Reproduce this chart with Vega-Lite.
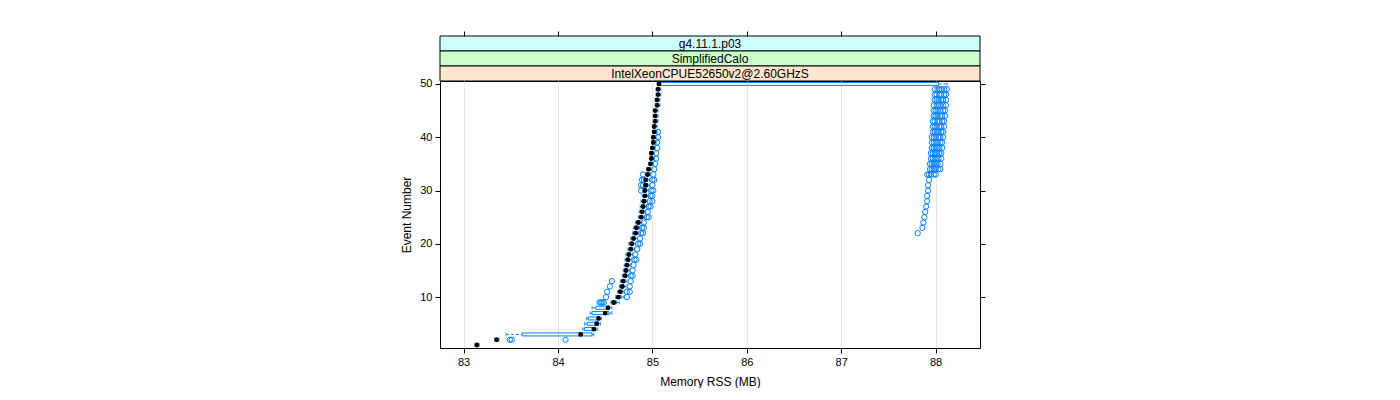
{
"$schema":"https://vega.github.io/schema/vega-lite/v6.json",
"padding":{"left":400,"top":30,"right":0,"bottom":0},
"background":"white",
"spacing":0,
"bounds":"flush",
"config":{"font":"Liberation Sans","view":{"stroke":null},"scale":{"continuousPadding":0},
"axis":{"domain":false,"tickColor":"black","tickSize":5,"labelFontSize":11,"labelColor":"black","labelFont":"Liberation Sans","titleFont":"Liberation Sans","titleFontSize":12,"titleFontWeight":"normal","titleColor":"black","gridColor":"#e6e6e6","labelPadding":3,"titlePadding":6}},
"datasets":{
"strips":[{"label":"g4.11.1.p03"},{"label":"SimplifiedCalo"},{"label":"IntelXeonCPUE52650v2@2.60GHzS"}],
"summary":[
{"e":1,"lo":83.12,"q1":83.135,"med":83.14,"q3":83.15,"hi":83.165},
{"e":2,"lo":83.33,"q1":83.345,"med":83.35,"q3":83.36,"hi":83.375},
{"e":3,"lo":83.45,"q1":83.62,"med":84.24,"q3":84.36,"hi":84.38},
{"e":4,"lo":84.26,"q1":84.28,"med":84.38,"q3":84.40,"hi":84.42},
{"e":5,"lo":84.28,"q1":84.31,"med":84.41,"q3":84.43,"hi":84.45},
{"e":6,"lo":84.30,"q1":84.32,"med":84.43,"q3":84.44,"hi":84.46},
{"e":7,"lo":84.34,"q1":84.36,"med":84.50,"q3":84.54,"hi":84.57},
{"e":8,"lo":84.36,"q1":84.40,"med":84.53,"q3":84.54,"hi":84.57},
{"e":9,"lo":84.56,"q1":84.57,"med":84.59,"q3":84.62,"hi":84.65},
{"e":10,"lo":84.61,"q1":84.62,"med":84.64,"q3":84.67,"hi":84.70},
{"e":11,"lo":84.63,"q1":84.65,"med":84.66,"q3":84.68,"hi":84.70},
{"e":12,"lo":84.65,"q1":84.67,"med":84.68,"q3":84.70,"hi":84.72},
{"e":13,"lo":84.66,"q1":84.68,"med":84.69,"q3":84.71,"hi":84.73},
{"e":14,"lo":84.68,"q1":84.70,"med":84.71,"q3":84.73,"hi":84.75},
{"e":15,"lo":84.69,"q1":84.71,"med":84.72,"q3":84.74,"hi":84.76},
{"e":16,"lo":84.70,"q1":84.72,"med":84.73,"q3":84.75,"hi":84.77},
{"e":17,"lo":84.71,"q1":84.73,"med":84.74,"q3":84.76,"hi":84.78},
{"e":18,"lo":84.72,"q1":84.74,"med":84.75,"q3":84.77,"hi":84.79},
{"e":19,"lo":84.74,"q1":84.76,"med":84.77,"q3":84.79,"hi":84.81},
{"e":20,"lo":84.75,"q1":84.77,"med":84.78,"q3":84.80,"hi":84.82},
{"e":21,"lo":84.77,"q1":84.79,"med":84.80,"q3":84.82,"hi":84.84},
{"e":22,"lo":84.79,"q1":84.81,"med":84.82,"q3":84.84,"hi":84.86},
{"e":23,"lo":84.80,"q1":84.82,"med":84.83,"q3":84.85,"hi":84.87},
{"e":24,"lo":84.82,"q1":84.84,"med":84.85,"q3":84.87,"hi":84.89},
{"e":25,"lo":84.85,"q1":84.87,"med":84.88,"q3":84.90,"hi":84.92},
{"e":26,"lo":84.86,"q1":84.88,"med":84.89,"q3":84.91,"hi":84.93},
{"e":27,"lo":84.87,"q1":84.89,"med":84.90,"q3":84.92,"hi":84.94},
{"e":28,"lo":84.88,"q1":84.90,"med":84.91,"q3":84.93,"hi":84.95},
{"e":29,"lo":84.89,"q1":84.91,"med":84.92,"q3":84.94,"hi":84.96},
{"e":30,"lo":84.90,"q1":84.91,"med":84.92,"q3":84.94,"hi":84.96},
{"e":31,"lo":84.91,"q1":84.92,"med":84.93,"q3":84.95,"hi":84.97},
{"e":32,"lo":84.91,"q1":84.92,"med":84.93,"q3":84.95,"hi":84.97},
{"e":33,"lo":84.93,"q1":84.94,"med":84.95,"q3":84.96,"hi":84.98},
{"e":34,"lo":84.94,"q1":84.95,"med":84.96,"q3":84.97,"hi":84.99},
{"e":35,"lo":84.96,"q1":84.97,"med":84.98,"q3":84.99,"hi":85.01},
{"e":36,"lo":84.97,"q1":84.98,"med":84.99,"q3":85.00,"hi":85.02},
{"e":37,"lo":84.97,"q1":84.98,"med":84.99,"q3":85.00,"hi":85.02},
{"e":38,"lo":84.98,"q1":84.99,"med":85.00,"q3":85.01,"hi":85.03},
{"e":39,"lo":84.99,"q1":85.00,"med":85.01,"q3":85.02,"hi":85.04},
{"e":40,"lo":84.99,"q1":85.00,"med":85.01,"q3":85.02,"hi":85.04},
{"e":41,"lo":85.00,"q1":85.01,"med":85.02,"q3":85.03,"hi":85.05},
{"e":42,"lo":85.00,"q1":85.01,"med":85.02,"q3":85.03,"hi":85.05},
{"e":43,"lo":85.01,"q1":85.02,"med":85.03,"q3":85.04,"hi":85.06},
{"e":44,"lo":85.01,"q1":85.02,"med":85.03,"q3":85.04,"hi":85.06},
{"e":45,"lo":85.01,"q1":85.02,"med":85.03,"q3":85.04,"hi":85.06},
{"e":46,"lo":85.03,"q1":85.04,"med":85.05,"q3":85.06,"hi":85.08},
{"e":47,"lo":85.03,"q1":85.04,"med":85.05,"q3":85.06,"hi":85.08},
{"e":48,"lo":85.04,"q1":85.05,"med":85.06,"q3":85.07,"hi":85.09},
{"e":49,"lo":85.04,"q1":85.05,"med":85.06,"q3":85.07,"hi":85.09},
{"e":50,"lo":85.05,"q1":85.06,"med":85.07,"q3":88.03,"hi":88.12}
],
"outliers":[
{"e":2,"v":83.49},{"e":2,"v":83.51},{"e":2,"v":84.08},
{"e":9,"v":84.44},{"e":9,"v":84.455},{"e":9,"v":84.47},{"e":9,"v":84.485},
{"e":10,"v":84.51},{"e":10,"v":84.73},
{"e":11,"v":84.52},{"e":11,"v":84.73},{"e":11,"v":84.76},
{"e":12,"v":84.55},{"e":12,"v":84.76},
{"e":13,"v":84.57},{"e":13,"v":84.77},
{"e":14,"v":84.77},{"e":14,"v":84.79},
{"e":15,"v":84.79},{"e":16,"v":84.80},
{"e":17,"v":84.81},{"e":17,"v":84.83},
{"e":18,"v":84.82},{"e":19,"v":84.84},
{"e":20,"v":84.85},{"e":20,"v":84.87},
{"e":21,"v":84.87},
{"e":22,"v":84.88},{"e":22,"v":84.90},
{"e":23,"v":84.89},{"e":23,"v":84.91},
{"e":24,"v":84.91},
{"e":25,"v":84.94},{"e":25,"v":84.96},
{"e":26,"v":84.95},
{"e":27,"v":84.96},{"e":27,"v":84.98},
{"e":28,"v":84.97},{"e":28,"v":85.00},
{"e":29,"v":84.98},{"e":29,"v":85.00},
{"e":30,"v":84.88},{"e":30,"v":84.99},{"e":30,"v":85.01},
{"e":31,"v":84.88},{"e":31,"v":84.90},{"e":31,"v":85.00},
{"e":32,"v":84.89},{"e":32,"v":84.91},{"e":32,"v":85.00},{"e":32,"v":85.02},
{"e":33,"v":84.90},{"e":33,"v":85.01},
{"e":34,"v":85.02},{"e":35,"v":85.03},{"e":36,"v":85.04},{"e":37,"v":85.04},
{"e":38,"v":85.05},{"e":39,"v":85.05},{"e":40,"v":85.06},{"e":41,"v":85.06},
{"e":22,"v":87.81},{"e":23,"v":87.86},{"e":24,"v":87.87},{"e":25,"v":87.88},
{"e":26,"v":87.89},{"e":27,"v":87.90},{"e":28,"v":87.91},{"e":29,"v":87.91},
{"e":30,"v":87.92},{"e":31,"v":87.92},{"e":32,"v":87.93},
{"e":33,"v":87.91},{"e":33,"v":87.93},{"e":33,"v":87.95},{"e":33,"v":87.98},{"e":33,"v":88.00},
{"e":34,"v":87.94},{"e":34,"v":87.96},{"e":34,"v":87.98},{"e":34,"v":88.00},{"e":34,"v":88.03},{"e":34,"v":88.05},
{"e":35,"v":87.94},{"e":35,"v":87.96},{"e":35,"v":87.98},{"e":35,"v":88.00},{"e":35,"v":88.02},{"e":35,"v":88.05},
{"e":36,"v":87.95},{"e":36,"v":87.97},{"e":36,"v":87.99},{"e":36,"v":88.01},{"e":36,"v":88.03},{"e":36,"v":88.06},
{"e":37,"v":87.95},{"e":37,"v":87.97},{"e":37,"v":87.99},{"e":37,"v":88.01},{"e":37,"v":88.04},{"e":37,"v":88.06},
{"e":38,"v":87.96},{"e":38,"v":87.98},{"e":38,"v":88.00},{"e":38,"v":88.02},{"e":38,"v":88.04},{"e":38,"v":88.07},
{"e":39,"v":87.96},{"e":39,"v":87.98},{"e":39,"v":88.00},{"e":39,"v":88.02},{"e":39,"v":88.05},{"e":39,"v":88.07},
{"e":40,"v":87.96},{"e":40,"v":87.98},{"e":40,"v":88.00},{"e":40,"v":88.03},{"e":40,"v":88.05},{"e":40,"v":88.08},
{"e":41,"v":87.97},{"e":41,"v":87.99},{"e":41,"v":88.01},{"e":41,"v":88.03},{"e":41,"v":88.06},{"e":41,"v":88.08},
{"e":42,"v":87.97},{"e":42,"v":87.99},{"e":42,"v":88.01},{"e":42,"v":88.04},{"e":42,"v":88.06},{"e":42,"v":88.09},
{"e":43,"v":87.97},{"e":43,"v":87.99},{"e":43,"v":88.02},{"e":43,"v":88.04},{"e":43,"v":88.07},{"e":43,"v":88.09},
{"e":44,"v":87.98},{"e":44,"v":88.00},{"e":44,"v":88.02},{"e":44,"v":88.05},{"e":44,"v":88.07},{"e":44,"v":88.10},
{"e":45,"v":87.98},{"e":45,"v":88.00},{"e":45,"v":88.02},{"e":45,"v":88.05},{"e":45,"v":88.08},{"e":45,"v":88.10},
{"e":46,"v":87.98},{"e":46,"v":88.01},{"e":46,"v":88.03},{"e":46,"v":88.05},{"e":46,"v":88.08},{"e":46,"v":88.11},
{"e":47,"v":87.99},{"e":47,"v":88.01},{"e":47,"v":88.03},{"e":47,"v":88.06},{"e":47,"v":88.08},{"e":47,"v":88.11},
{"e":48,"v":87.99},{"e":48,"v":88.01},{"e":48,"v":88.04},{"e":48,"v":88.06},{"e":48,"v":88.09},{"e":48,"v":88.11},
{"e":49,"v":87.99},{"e":49,"v":88.02},{"e":49,"v":88.04},{"e":49,"v":88.06},{"e":49,"v":88.09},{"e":49,"v":88.12}
]
},
"vconcat":[
{
"width":540,"height":45,
"data":{"name":"strips"},
"encoding":{"y":{"field":"label","type":"nominal","sort":["g4.11.1.p03","SimplifiedCalo","IntelXeonCPUE52650v2@2.60GHzS"],"scale":{"paddingInner":0,"paddingOuter":0},"axis":null}},
"layer":[
{"mark":{"type":"rect","stroke":"black","strokeWidth":1},
"encoding":{"fill":{"field":"label","type":"nominal","scale":{"domain":["g4.11.1.p03","SimplifiedCalo","IntelXeonCPUE52650v2@2.60GHzS"],"range":["#ccffff","#ccffcc","#ffe5cc"]},"legend":null}}},
{"mark":{"type":"text","fontSize":12,"color":"black","baseline":"middle","font":"Liberation Sans"},
"encoding":{"text":{"field":"label","type":"nominal"}}}
]
},
{
"width":540,"height":267,
"view":{"stroke":"black","strokeWidth":1},
"resolve":{"axis":{"x":"independent","y":"independent"}},
"layer":[
{
"data":{"name":"summary"},
"encoding":{"y":{"field":"e","type":"quantitative","title":"Event Number","scale":{"domain":[0.45,50.55],"nice":false,"zero":false,"padding":0},"axis":{"values":[10,20,30,40,50],"grid":false,"orient":"left"}}},
"layer":[
{"mark":{"type":"rule","color":"#0080ff","strokeDash":[3,2],"strokeWidth":1},
"encoding":{"x":{"field":"lo","type":"quantitative","title":"Memory RSS (MB)","scale":{"domain":[82.75,88.47],"nice":false,"zero":false,"padding":0},"axis":{"values":[83,84,85,86,87,88],"format":"d","grid":true,"orient":"bottom","titlePadding":9}},"x2":{"field":"q1"}}},
{"mark":{"type":"rule","color":"#0080ff","strokeDash":[3,2],"strokeWidth":1},
"encoding":{"x":{"field":"q3","type":"quantitative","title":"Memory RSS (MB)"},"x2":{"field":"hi"}}},
{"mark":{"type":"tick","orient":"vertical","color":"#0080ff","size":4,"thickness":1},
"encoding":{"x":{"field":"lo","type":"quantitative","title":"Memory RSS (MB)"}}},
{"mark":{"type":"tick","orient":"vertical","color":"#0080ff","size":4,"thickness":1},
"encoding":{"x":{"field":"hi","type":"quantitative","title":"Memory RSS (MB)"}}},
{"mark":{"type":"bar","orient":"horizontal","size":3,"filled":false,"stroke":"#0080ff","strokeWidth":1},
"encoding":{"x":{"field":"q1","type":"quantitative","title":"Memory RSS (MB)"},"x2":{"field":"q3"}}},
{"data":{"name":"outliers"},"mark":{"type":"point","shape":"circle","filled":false,"color":"#0080ff","size":28,"strokeWidth":1,"opacity":1},
"encoding":{"x":{"field":"v","type":"quantitative","title":"Memory RSS (MB)"}}},
{"mark":{"type":"point","shape":"circle","filled":true,"color":"black","size":24,"opacity":1},
"encoding":{"x":{"field":"med","type":"quantitative","title":"Memory RSS (MB)"}}}
]
},
{
"data":{"name":"summary"},
"mark":{"type":"point","opacity":0},
"encoding":{
"x":{"field":"med","type":"quantitative","scale":{"domain":[82.75,88.47],"nice":false,"zero":false,"padding":0},"axis":{"orient":"top","offset":45,"labels":false,"grid":false,"title":null,"values":[83,84,85,86,87,88]}},
"y":{"field":"e","type":"quantitative","scale":{"domain":[0.45,50.55],"nice":false,"zero":false,"padding":0},"axis":{"orient":"right","labels":false,"grid":false,"title":null,"values":[10,20,30,40,50]}}}
}
]
}
]
}
